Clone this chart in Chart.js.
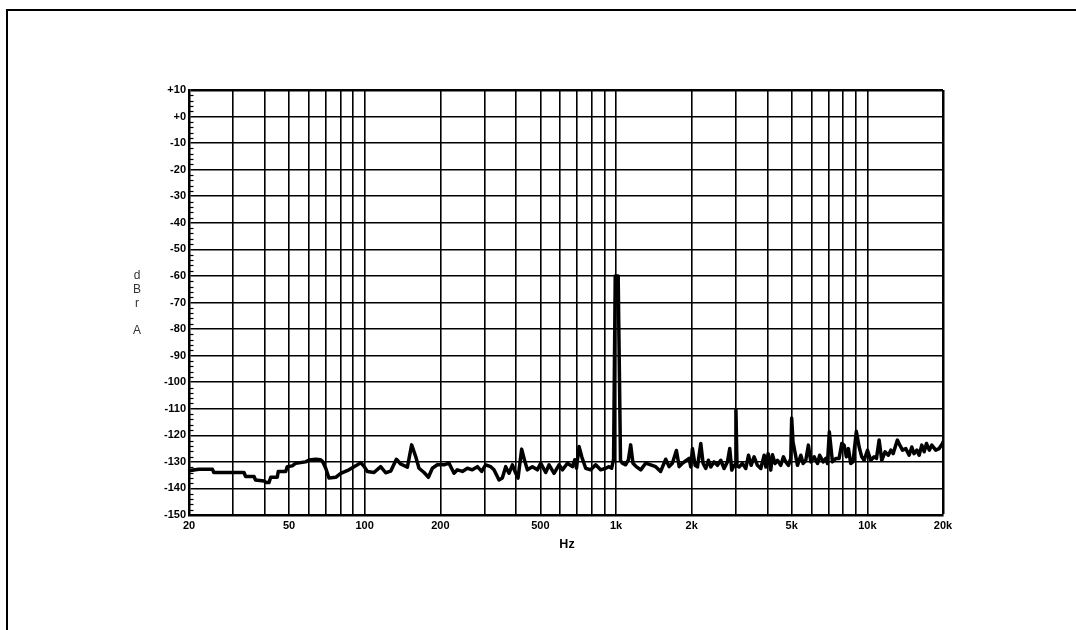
<!DOCTYPE html>
<html>
<head>
<meta charset="utf-8">
<script src="https://cdn.jsdelivr.net/npm/chart.js@4.4.1/dist/chart.umd.min.js"></script>
<style>
  html, body { margin: 0; padding: 0; background: #fff; }
  #wrap { position: relative; width: 1076px; height: 630px; overflow: hidden; }
  #frame { position: absolute; left: 6px; top: 9px; right: -4px; bottom: -4px;
           border-top: 2px solid #000; border-left: 2px solid #000; pointer-events: none; }
  canvas { position: absolute; left: 0; top: 0; }
</style>
</head>
<body>
<div id="wrap">
  <canvas id="chart" width="1076" height="630"></canvas>
  <div id="frame"></div>
</div>
<script>
// Spectrum trace (Hz / dBr A)
const freqs = [
  20, 21.9, 24.8, 25.1, 33.1, 33.6, 36.3, 36.8, 39.8, 40.6, 41.6, 42.3, 44.9, 45.3, 48.5, 49.2, 51.5, 53.2, 58.2, 60.1, 63.8, 66.8, 67.9, 70.0, 72.1, 76.7, 80.3, 86.6, 92.1, 96.4, 99.4, 102.5, 108.9, 115.8, 121.2, 126.9, 133.7, 139.1, 147.9, 153.8, 159.6, 164.5, 172.3, 179.3, 185.9, 194.6,
  206.9, 216.6, 226.7, 233.8, 244.8, 256.2, 268.1, 280.8, 292.1, 302.9, 317.2, 327, 342.4, 352.9, 364, 375.2, 387.1, 399.2, 407.6, 421.3, 432, 443.8, 464.8, 486.5, 501.5, 525.2, 541.6, 566.9, 593.4, 612, 640.8, 670.7, 685.3, 696.3, 712.7, 730.3, 757.4, 793, 829.9, 868.5, 910, 938.2, 961, 978, 993, 1020, 1042, 1060, 1093, 1120, 1144, 1168, 1204, 1254, 1312, 1374, 1438, 1505, 1577, 1626, 1676, 1739, 1784, 1837, 1923,
  1953.6, 1983.7, 2014, 2064, 2109, 2174, 2221, 2276, 2332, 2383, 2456, 2533, 2611, 2692, 2776, 2835, 2887, 2950, 2975, 3000, 3030, 3087, 3184, 3284, 3366, 3448, 3544, 3653, 3768, 3886, 3946, 4030, 4128, 4192, 4294, 4388, 4525, 4636, 4737, 4855, 4958, 5000, 5060, 5273, 5437, 5554, 5689, 5828, 5958, 6144, 6335, 6461, 6671, 6836, 6939, 7060, 7263, 7488, 7721, 7912, 8082, 8256, 8408, 8586, 8770, 9040, 9276, 9500, 9711, 10012, 10321, 10641, 10872, 11139, 11413, 11761, 12122, 12398, 12665, 13169, 13464, 13798, 14222, 14663, 15023, 15339, 15746, 16072, 16469, 16826, 17192, 17640, 18052, 18715, 19302, 19907, 20000
];
const levels = [
  -133.3, -132.8, -132.8, -134.0, -134.0, -135.5, -135.5, -136.8, -137.2, -137.8, -137.8, -135.8, -135.8, -133.6, -133.6, -131.8, -131.5, -130.5, -130, -129.3, -129, -129.2, -129.8, -132.4, -136.1, -135.8, -134.3, -133, -131.5, -130.3, -131.7, -133.6, -134, -131.8, -134.1, -133.5, -129, -130.8, -132, -123.6, -128, -132.4, -134, -135.8, -132.4, -131.1,
  -131.1, -130.5, -134.3, -133, -133.6, -132.4, -133, -131.8, -133.6, -131.1, -131.8, -133, -136.8, -136.1, -131.8, -134.3, -131.1, -134.3, -136.1, -125.2, -129.2, -133, -131.8, -133, -130.5, -134, -131.1, -134.3, -131.1, -133, -130.5, -131.8, -129.2, -132.4, -124.2, -128, -132.4, -133, -131.1, -133, -132.4, -131.8, -132.4, -129, -60, -60, -129.5, -130.5, -131.1, -129.2, -123.6, -130.5, -131.8, -133, -130.5, -131.1, -131.8, -133.6, -129, -131.8, -130.5, -125.7, -131.8, -130.5, -129.2,
  -128.7, -131.9, -125, -131.3, -131.9, -123.1, -130.6, -132.5, -129.4, -131.9, -130, -131.3, -129.4, -132.5, -130, -125, -133.1, -131.3, -131.5, -110.5, -131.5, -131.9, -130.6, -132.5, -127.5, -131.3, -128.1, -131.3, -132.5, -127.5, -131.9, -126.9, -133.1, -127.3, -130.6, -129.4, -131.3, -128.1, -130, -131.3, -128.7, -113.5, -122.5, -131.3, -127.5, -130.6, -129.4, -123.7, -130, -128.1, -130.6, -127.5, -130, -128.7, -130.6, -118.7, -130, -128.7, -128.7, -123.1, -123.7, -128.1, -125, -130.6, -130, -118.5, -124.4, -128.1, -129.4, -125.6, -129.4, -128.1, -128.7, -121.8, -129.4, -126.2, -127.5, -125.6, -126.9, -121.8, -123.7, -125.6, -125, -127.5, -124.4, -126.9, -125.6, -127.5, -123.7, -126.2, -123.1, -125.6, -123.7, -125.6, -125, -123.1, -122.5
];

// Axis grid / labels
const gridFreqs = [20, 30, 40, 50, 60, 70, 80, 90, 100, 200, 300, 400, 500, 600, 700, 800, 900,
  1000, 2000, 3000, 4000, 5000, 6000, 7000, 8000, 9000, 10000, 20000];
const labelFreqs = [20, 50, 100, 200, 500, 1000, 2000, 5000, 10000, 20000];
const labelTexts = ['20', '50', '100', '200', '500', '1k', '2k', '5k', '10k', '20k'];
const yAxisLetters = ['d', 'B', 'r', '', 'A'];
const xAxisTitle = 'Hz';

const FONT = '"Liberation Sans", Arial, Helvetica, sans-serif';

// plot box in the page
const AREA = { left: 189, top: 90, right: 943, bottom: 515 };

const points = freqs.map((f, i) => ({ x: f, y: levels[i] }));

// small inner ticks on the left axis + axis titles
const decorPlugin = {
    id: 'decor',
    afterDraw(chart) {
        const ctx = chart.ctx;
        const y = chart.scales.y;
        const area = chart.chartArea;
        ctx.save();
        ctx.strokeStyle = '#000';
        ctx.lineWidth = 1.2;
        for (let v = -148; v < 10; v += 2) {
            if (v % 10 === 0) continue;
            const py = Math.round(y.getPixelForValue(v)) + 0.5;
            ctx.beginPath();
            ctx.moveTo(area.left, py);
            ctx.lineTo(area.left + 4.5, py);
            ctx.stroke();
        }
        // y title, stacked letters
        ctx.fillStyle = '#333';
        ctx.font = '12px ' + FONT;
        ctx.textAlign = 'center';
        ctx.textBaseline = 'middle';
        yAxisLetters.forEach((ch, i) => {
            if (ch) ctx.fillText(ch, 137, 276 + i * 13.7);
        });
        // x title
        ctx.fillStyle = '#000';
        ctx.font = 'bold 12.5px ' + FONT;
        ctx.fillText(xAxisTitle, (area.left + area.right) / 2 + 1, 545);
        ctx.restore();
    }
};

new Chart(document.getElementById('chart'), {
    type: 'line',
    data: {
        datasets: [{
            data: points,
            borderColor: '#000',
            borderWidth: 3.5,
            borderJoinStyle: 'round',
            borderCapStyle: 'round',
            pointRadius: 0,
            tension: 0,
            fill: false
        }]
    },
    options: {
        responsive: false,
        animation: false,
        devicePixelRatio: 1,
        layout: { padding: { top: AREA.top, right: 1076 - AREA.right, left: 0, bottom: 0 } },
        plugins: {
            legend: { display: false },
            title: { display: false },
            tooltip: { enabled: false }
        },
        scales: {
            x: {
                type: 'logarithmic',
                min: 20,
                max: 20000,
                afterBuildTicks: (scale) => {
                    scale.ticks = gridFreqs.map(v => ({ value: v }));
                },
                afterFit: (scale) => { scale.height = 630 - AREA.bottom; },
                ticks: {
                    autoSkip: false,
                    maxRotation: 0,
                    minRotation: 0,
                    padding: 4,
                    color: '#000',
                    font: { family: FONT, size: 11, weight: 'bold' },
                    callback: (value) => {
                        const i = labelFreqs.indexOf(Math.round(value));
                        return i >= 0 ? labelTexts[i] : '';
                    }
                },
                grid: {
                    color: '#000',
                    drawTicks: false,
                    lineWidth: (c) => (c.tick && c.tick.value === 20000 ? 2.5 : 1.6)
                },
                border: { display: true, color: '#000', width: 2.5 }
            },
            y: {
                min: -150,
                max: 10,
                afterFit: (scale) => { scale.width = AREA.left; },
                ticks: {
                    stepSize: 10,
                    padding: 3,
                    color: '#000',
                    font: { family: FONT, size: 11, weight: 'bold' },
                    callback: (v) => (v >= 0 ? '+' + v : '' + v)
                },
                grid: {
                    color: '#000',
                    drawTicks: false,
                    lineWidth: (c) => (c.tick && c.tick.value === 10 ? 2.5 : 1.6)
                },
                border: { display: true, color: '#000', width: 2.5 }
            }
        }
    },
    plugins: [decorPlugin]
});
</script>
</body>
</html>
